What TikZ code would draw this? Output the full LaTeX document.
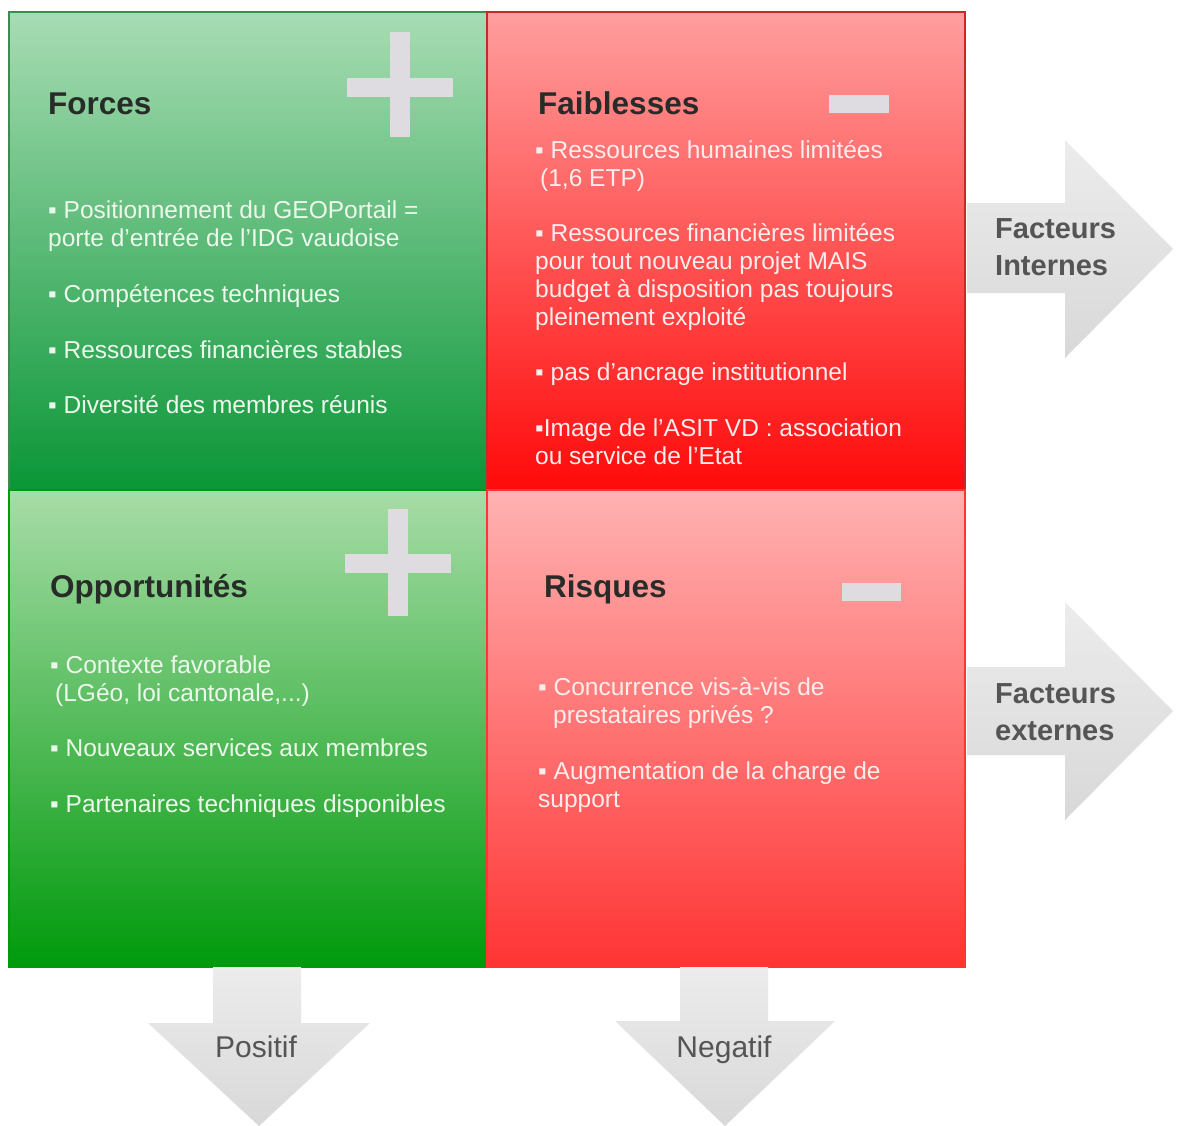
\documentclass[tikz,border=0pt]{standalone}
\usepackage{fontspec}
\setmainfont{Liberation Sans}
\usetikzlibrary{positioning}

\definecolor{greentop}{RGB}{168,220,180}
\definecolor{greenmid}{RGB}{88,188,112}
\definecolor{greenbot}{RGB}{10,150,55}
\definecolor{greenline}{RGB}{60,140,80}
\definecolor{redtop}{RGB}{255,158,158}
\definecolor{redmid}{RGB}{255,82,82}
\definecolor{redbot}{RGB}{255,10,10}
\definecolor{redline}{RGB}{200,40,40}
\definecolor{oppotop}{RGB}{168,220,168}
\definecolor{oppomid}{RGB}{76,181,76}
\definecolor{oppobot}{RGB}{0,154,12}
\definecolor{risktop}{RGB}{255,178,178}
\definecolor{riskmid}{RGB}{255,104,104}
\definecolor{riskbot}{RGB}{255,52,52}
\definecolor{signgray}{RGB}{222,220,224}
\definecolor{arrowtop}{RGB}{236,236,236}
\definecolor{arrowbot}{RGB}{216,216,216}
\definecolor{labgray}{RGB}{85,85,85}
\definecolor{headgray}{RGB}{40,44,40}
\definecolor{txtgreen}{RGB}{236,248,236}
\definecolor{txtred}{RGB}{255,236,236}

\begin{document}
\begin{tikzpicture}[x=1pt,y=-1pt,
  item/.style={anchor=base west,inner sep=0pt,align=left,font=\fontsize{24.5}{28}\selectfont},
  head/.style={anchor=base west,inner sep=0pt,text=headgray,font=\fontsize{31.5}{36}\selectfont\bfseries},
  sign/.style={fill=signgray},
  bigarrow/.style={top color=arrowtop,bottom color=arrowbot},
  factor/.style={anchor=base west,inner sep=0pt,align=left,text=labgray,font=\fontsize{29}{37}\selectfont\bfseries},
  polarity/.style={anchor=base,inner sep=0pt,text=labgray,font=\fontsize{30}{36}\selectfont}]

  \useasboundingbox (0,0) rectangle (1177,1126);
  \fill[white] (0,0) rectangle (1177,1126);

  % quadrants
  \shadedraw[top color=greentop,middle color=greenmid,bottom color=greenbot,draw=greenline,line width=1.5pt] (9,12) rectangle (487,490);
  \shadedraw[top color=redtop,middle color=redmid,bottom color=redbot,draw=redline,line width=1.5pt] (487,12) rectangle (965,490);
  \shadedraw[top color=oppotop,middle color=oppomid,bottom color=oppobot,draw=oppobot,line width=1.5pt] (9,490) rectangle (487,967);
  \shadedraw[top color=risktop,middle color=riskmid,bottom color=riskbot,draw=riskbot,line width=1.5pt] (487,490) rectangle (965,967);

  % plus and minus signs
  \fill[sign] (390,32) rectangle (410,137);
  \fill[sign] (347,78) rectangle (453,97);
  \fill[sign] (388,509) rectangle (408,616);
  \fill[sign] (345,554) rectangle (451,573);
  \fill[sign] (829,95) rectangle (889,113);
  \fill[sign] (842,583) rectangle (901,601);

  % block arrows
  \shade[bigarrow] (967,203) -- (1065,203) -- (1065,140) -- (1173,249) -- (1065,358) -- (1065,293) -- (967,293) -- cycle;
  \shade[bigarrow] (967,667) -- (1065,667) -- (1065,602) -- (1173,711) -- (1065,820) -- (1065,755) -- (967,755) -- cycle;
  \shade[bigarrow] (213,967) -- (213,1023) -- (148,1023) -- (259,1126) -- (370,1023) -- (301,1023) -- (301,967) -- cycle;
  \shade[bigarrow] (680,967) -- (680,1021) -- (615,1021) -- (725,1126) -- (835,1021) -- (768,1021) -- (768,967) -- cycle;

  % forces (multi-line items sit on their last baseline)
  \node[head] (forces) at (48,115) {Forces};
  \node[item,text=txtgreen] (f1) at (48,246) {▪ Positionnement du GEOPortail =\\porte d'entrée de l'IDG vaudoise};
  \node[item,text=txtgreen] (f2) at (48,302) {▪ Compétences techniques};
  \node[item,text=txtgreen] (f3) at (48,358) {▪ Ressources financières stables};
  \node[item,text=txtgreen] (f4) at (48,413) {▪ Diversité des membres réunis};

  % faiblesses
  \node[head] (faiblesses) at (538,115) {Faiblesses};
  \node[item,text=txtred] (w1) at (535,186) {▪ Ressources humaines limitées\\\hspace*{5pt}(1,6 ETP)};
  \node[item,text=txtred] (w2) at (535,325) {▪ Ressources financières limitées\\pour tout nouveau projet MAIS\\budget à disposition pas toujours\\pleinement exploité};
  \node[item,text=txtred] (w3) at (535,380) {▪ pas d'ancrage institutionnel};
  \node[item,text=txtred] (w4) at (535,464) {▪Image de l'ASIT VD : association\\ou service de l'Etat};

  % opportunites
  \node[head] (opportunites) at (50,597) {Opportunités};
  \node[item,text=txtgreen] (o1) at (50,701) {▪ Contexte favorable\\\hspace*{5pt}(LGéo, loi cantonale,...)};
  \node[item,text=txtgreen] (o2) at (50,756) {▪ Nouveaux services aux membres};
  \node[item,text=txtgreen] (o3) at (50,812) {▪ Partenaires techniques disponibles};

  % risques
  \node[head] (risques) at (544,597) {Risques};
  \node[item,text=txtred] (r1) at (538,723) {▪ Concurrence vis-à-vis de\\\hspace*{15pt}prestataires privés ?};
  \node[item,text=txtred] (r2) at (538,807) {▪ Augmentation de la charge de\\support};

  % arrow labels
  \node[factor] (internes) at (995,275) {Facteurs\\Internes};
  \node[factor] (externes) at (995,740) {Facteurs\\externes};
  \node[polarity] (positif) at (256,1057) {Positif};
  \node[polarity] (negatif) at (724,1057) {Negatif};

\end{tikzpicture}
\end{document}
